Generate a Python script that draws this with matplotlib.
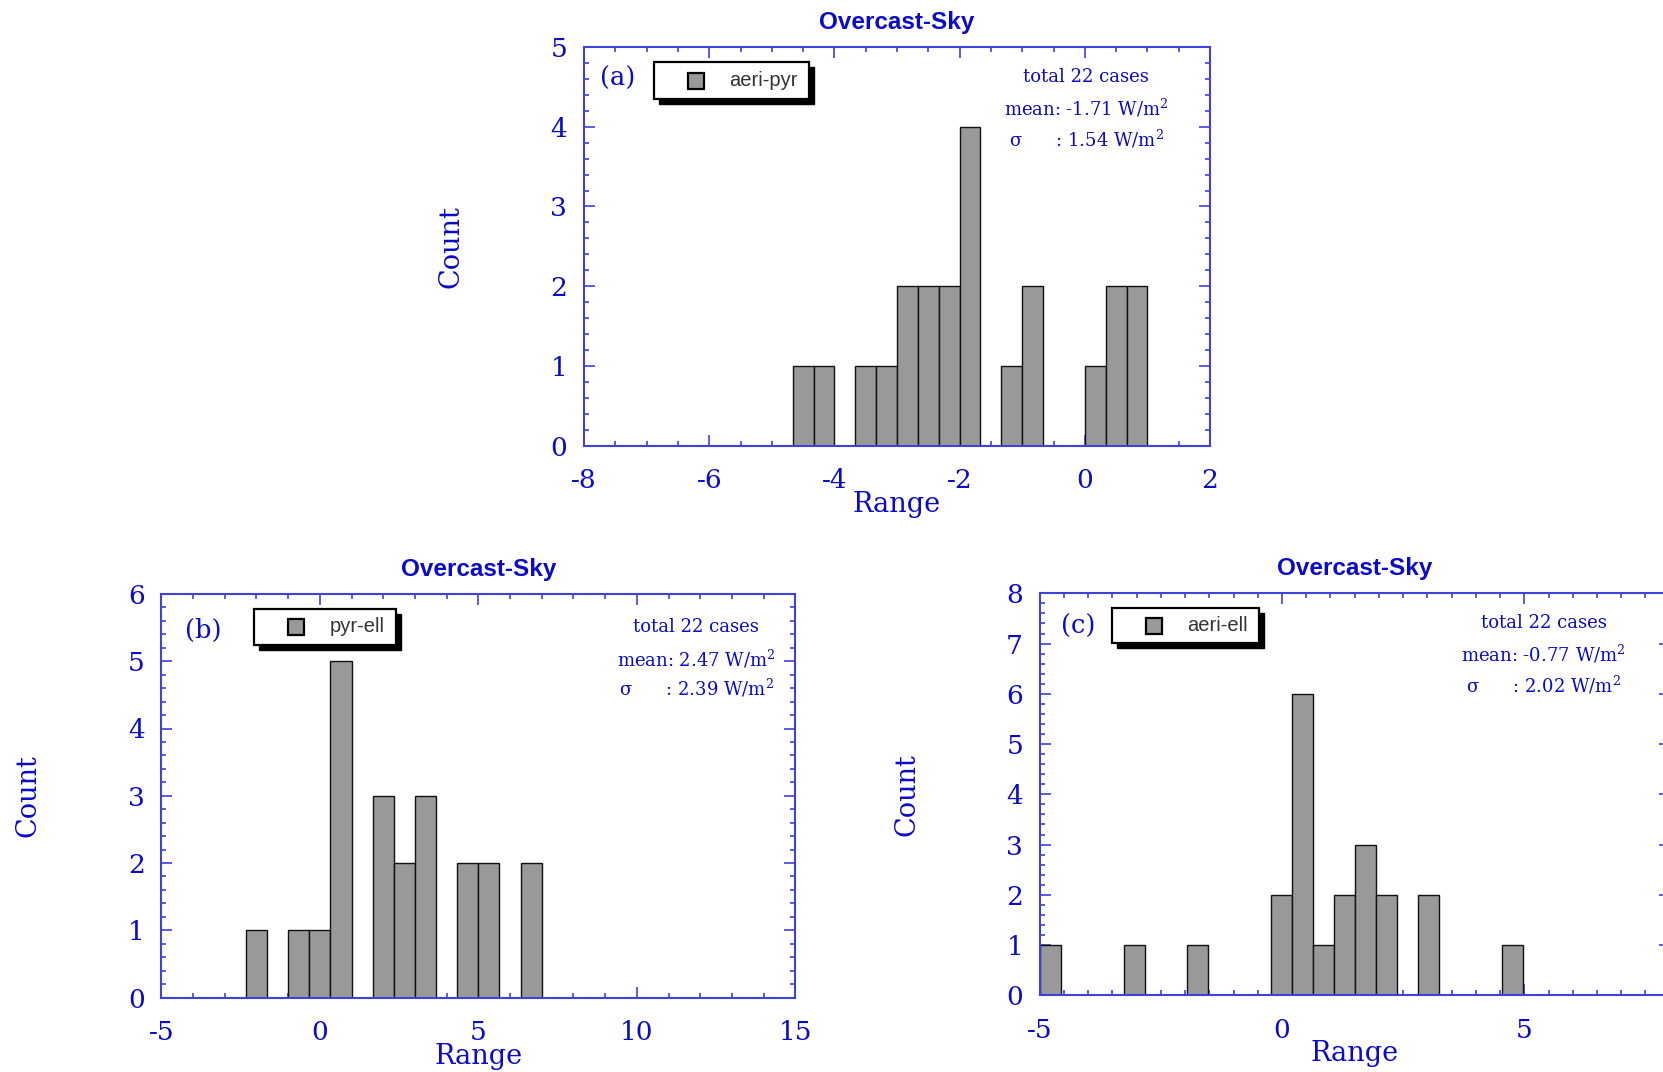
import numpy as np
import matplotlib
matplotlib.use("Agg")
import matplotlib.pyplot as plt
from matplotlib.patches import Rectangle
from matplotlib.ticker import MultipleLocator

# histogram data: first bin edge, bin width, counts per bin
a_start, a_width = -14 / 3, 1 / 3
a_counts = [1, 1, 0, 1, 1, 2, 2, 2, 4, 0, 1, 2, 0, 0, 1, 2, 2]

b_start, b_width = -7 / 3, 2 / 3
b_counts = [1, 0, 1, 1, 5, 0, 3, 2, 3, 0, 2, 2, 0, 2]

c_start, c_width = -5.0, 13 / 30
c_counts = [1, 0, 0, 0, 1, 0, 0, 1, 0, 0, 0, 2, 6, 1, 2, 3, 2, 0, 2, 0, 0, 0, 1]

names = ["aeri-pyr", "pyr-ell", "aeri-ell"]
tags = ["(a)", "(b)", "(c)"]
means = [-1.71, 2.47, -0.77]
sigmas = [1.54, 2.39, 2.02]
n_cases = 22

BLUE = "#0a0ac8"
SPINE = "#4040dc"
BAR = "#999999"

plt.rcParams["mathtext.fontset"] = "dejavuserif"
plt.rcParams["axes.unicode_minus"] = False

fig = plt.figure(figsize=(16.63, 10.72), dpi=100)
W, H = 1663, 1072


def add_axes(left, top, width, height):
    return fig.add_axes([left / W, 1 - (top + height) / H, width / W, height / H])


ax_a = add_axes(584, 47, 626, 398.7)
ax_b = add_axes(161.3, 594, 634, 403.5)
ax_c = add_axes(1039.7, 593.3, 630, 402)


def px(ax, dx, dy):
    # pixel offset from the axes' top-left corner -> axes fraction
    return dx / ax.bbox.width, 1 - dy / ax.bbox.height


def draw_panel(ax, start, width, counts, xlim, ylim, xmaj, xmin, i, leg, tag_pos, stat_pos):
    counts = np.array(counts)
    edges = start + width * np.arange(len(counts))
    keep = counts > 0
    ax.bar(edges[keep], counts[keep], width=width, align="edge",
           color=BAR, edgecolor="#111111", linewidth=1.0, zorder=2)
    ax.set_xlim(*xlim)
    ax.set_ylim(*ylim)
    ax.xaxis.set_major_locator(MultipleLocator(xmaj))
    ax.xaxis.set_minor_locator(MultipleLocator(xmin))
    ax.yaxis.set_major_locator(MultipleLocator(1))
    ax.yaxis.set_minor_locator(MultipleLocator(0.2))
    ax.tick_params(which="both", direction="in", top=True, right=True, color=SPINE, width=1.2)
    ax.tick_params(which="major", length=8, labelsize=19, labelcolor=BLUE)
    ax.tick_params(axis="x", which="major", pad=16)
    ax.tick_params(axis="y", which="major", pad=12)
    ax.tick_params(which="minor", length=3.8)
    for lab in ax.get_xticklabels() + ax.get_yticklabels():
        lab.set_fontfamily("DejaVu Serif")
    for s in ax.spines.values():
        s.set_color(SPINE)
        s.set_linewidth(1.5)
    ax.set_title("Overcast-Sky", color=BLUE, fontsize=17.5, fontweight="bold",
                 family="Liberation Sans", pad=13)
    ax.set_xlabel("Range", color=BLUE, fontsize=19.5, family="DejaVu Serif", labelpad=-1.5)
    ax.set_ylabel("Count", color=BLUE, fontsize=19.5, family="DejaVu Serif", labelpad=62)

    # legend box with a solid drop shadow
    lx, ly, lw, lh = leg
    x0, y1 = px(ax, lx, ly)
    x1, y0 = px(ax, lx + lw, ly + lh)
    sx, sy = px(ax, 5, 5)
    sy = 1 - sy
    ax.add_patch(Rectangle((x0 + sx, y0 - sy), x1 - x0, y1 - y0, transform=ax.transAxes,
                           facecolor="black", edgecolor="black", zorder=5, clip_on=False))
    ax.add_patch(Rectangle((x0, y0), x1 - x0, y1 - y0, transform=ax.transAxes,
                           facecolor="white", edgecolor="black", linewidth=1.6, zorder=6,
                           clip_on=False))
    mx, my = px(ax, lx + 42, ly + lh / 2)
    ax.plot([mx], [my], marker="s", markersize=12, markerfacecolor=BAR,
            markeredgecolor="black", markeredgewidth=1.6, transform=ax.transAxes,
            zorder=7, clip_on=False)
    tx, ty = px(ax, lx + 75, ly + lh / 2)
    ax.text(tx, ty, names[i], transform=ax.transAxes, fontsize=14.5, color="#333333",
            family="Liberation Sans", ha="left", va="center", zorder=7)

    # panel tag
    gx, gy = px(ax, *tag_pos)
    ax.text(gx, gy, tags[i], transform=ax.transAxes, fontsize=18.5, color=BLUE,
            family="DejaVu Serif", ha="left", va="center")

    # summary statistics
    cx, d0, d1, d2 = stat_pos
    lines = [f"total {n_cases} cases",
             f"mean: {means[i]:.2f} W/m$^2$",
             f"σ      : {sigmas[i]:.2f} W/m$^2$"]
    for txt, dy in zip(lines, (d0, d1, d2)):
        px_, py_ = px(ax, cx, dy)
        ax.text(px_, py_, txt, transform=ax.transAxes, fontsize=13, color=BLUE,
                family="DejaVu Serif", ha="center", va="center")


draw_panel(ax_a, a_start, a_width, a_counts, (-8, 2), (0, 5), 2, 0.5, 0,
           (70, 15, 155, 37), (16, 31), (502, 29.7, 61, 92))
draw_panel(ax_b, b_start, b_width, b_counts, (-5, 15), (0, 6), 5, 1, 1,
           (93, 15, 142, 36), (24, 36), (535, 32.7, 65, 94))
draw_panel(ax_c, c_start, c_width, c_counts, (-5, 8), (0, 8), 5, 0.5, 2,
           (72, 15, 147, 35), (21, 33.5), (504, 30, 61, 92))

fig.savefig("out.png", dpi=100)
